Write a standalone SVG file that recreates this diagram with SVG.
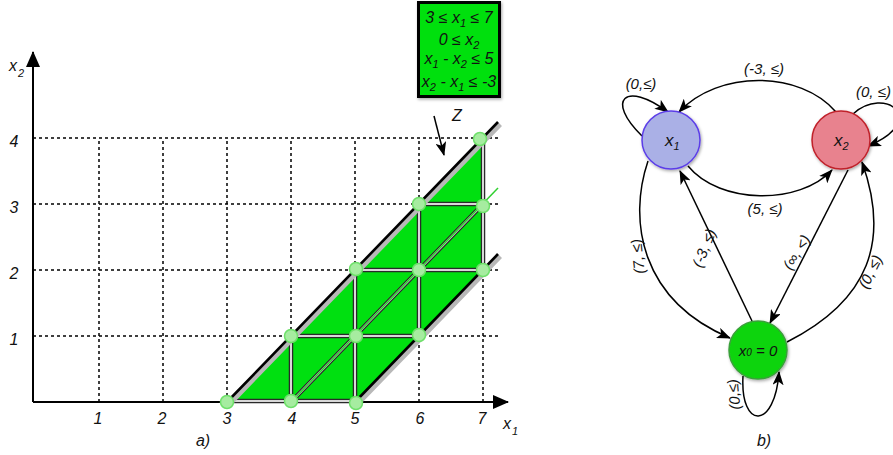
<svg xmlns="http://www.w3.org/2000/svg" width="893" height="455" viewBox="0 0 893 455">
<style>
text{font-family:"Liberation Sans",Arial,sans-serif;font-style:italic;fill:#111}
.t{font-size:16px}
.lbl{font-size:15px}
.grid{stroke:#000;stroke-width:1.5;stroke-dasharray:3,3;fill:none}
.axis{stroke:#000;stroke-width:2;fill:none}
.bnd{stroke:#000;stroke-width:2.6;fill:none}
.bndh{stroke:#b8b8b8;stroke-width:5.5;fill:none}
.inh{stroke:#2a2a2a;stroke-width:4.5;fill:none}
.inc{stroke:#d8d8d8;stroke-width:2;fill:none}
.dot{fill:#a6eca0;stroke:#6ee06a;stroke-width:1.5}
.edge{stroke:#000;stroke-width:1.5;fill:none;marker-end:url(#ah)}
</style>
<defs>
<marker id="ah" viewBox="0 0 14 11" refX="13" refY="5.5" markerWidth="14" markerHeight="11" markerUnits="userSpaceOnUse" orient="auto">
<path d="M0,0 L14,5.5 L0,11 L3.5,5.5 z" fill="#000"/>
</marker>
<marker id="axh" viewBox="0 0 16 14" refX="15" refY="7" markerWidth="16" markerHeight="14" markerUnits="userSpaceOnUse" orient="auto">
<path d="M0,0 L16,7 L0,14 z" fill="#000"/>
</marker>
<filter id="sh" x="-20%" y="-20%" width="140%" height="140%">
<feDropShadow dx="1" dy="1.5" stdDeviation="1.5" flood-color="#000" flood-opacity="0.35"/>
</filter>
</defs>

<g id="plot-a">
<g id="grid">
<path class="grid" d="M33,138 H500 M33,204 H500 M33,270 H500 M33,336 H500"/>
<path class="grid" d="M99,402 V138 M163,402 V138 M227,402 V138 M291,402 V138 M355,402 V138 M419,402 V138 M483,402 V138"/>
</g>
<g id="axes">
<line class="axis" x1="33" y1="402" x2="33" y2="52" marker-end="url(#axh)"/>
<line class="axis" x1="33" y1="402" x2="508" y2="402" marker-end="url(#axh)"/>
<text class="t" x="9" y="71">x</text><text x="18" y="77" style="font-size:11px">2</text>
<text class="t" x="503" y="429">x</text><text x="512" y="435" style="font-size:11px">1</text>
<text class="t" x="14" y="147" text-anchor="middle">4</text>
<text class="t" x="14" y="213" text-anchor="middle">3</text>
<text class="t" x="14" y="279" text-anchor="middle">2</text>
<text class="t" x="14" y="345" text-anchor="middle">1</text>
<text class="t" x="98" y="424" text-anchor="middle">1</text>
<text class="t" x="162" y="424" text-anchor="middle">2</text>
<text class="t" x="227" y="424" text-anchor="middle">3</text>
<text class="t" x="292" y="424" text-anchor="middle">4</text>
<text class="t" x="355" y="424" text-anchor="middle">5</text>
<text class="t" x="420" y="424" text-anchor="middle">6</text>
<text class="t" x="482" y="424" text-anchor="middle">7</text>
<text class="t" x="203" y="446" text-anchor="middle">a)</text>
</g>
<g id="zone-Z">
<polygon points="227,402 355,402 483,270 483,138" fill="#00e010"/>
<path class="inh" d="M291,402 V336 M355,402 V270 M419,336 V204 M483,270 V138 M291,336 H419 M355,270 H483 M419,204 H483 M227,401 H355"/>
<path class="inc" d="M291,402 V336 M355,402 V270 M419,336 V204 M483,270 V138 M291,336 H419 M355,270 H483 M419,204 H483 M227,401 H355"/>
<path class="inh" d="M291,402 L483,204"/>
<path class="inc" d="M291,402 L483,204"/>
<path d="M291,402 L498,188" stroke="#30d030" stroke-width="1.5" fill="none"/>
<path class="bndh" d="M229,404 L500,124 M357,404 L500,256"/>
<path class="bnd" d="M227,402 L498,122 M355,402 L498,254"/>
<circle class="dot" cx="227" cy="402" r="6.5"/>
<circle class="dot" cx="291" cy="401" r="6.5"/>
<circle class="dot" cx="356" cy="403" r="6.5"/>
<circle class="dot" cx="291" cy="336" r="6.5"/>
<circle class="dot" cx="356" cy="336" r="6.5"/>
<circle class="dot" cx="419" cy="335" r="6.5"/>
<circle class="dot" cx="356" cy="269" r="6.5"/>
<circle class="dot" cx="419" cy="270" r="6.5"/>
<circle class="dot" cx="483" cy="270" r="6.5"/>
<circle class="dot" cx="419" cy="204" r="6.5"/>
<circle class="dot" cx="483" cy="206" r="6.5"/>
<circle class="dot" cx="480" cy="139" r="6.5"/>
</g>
<g id="constraints-box">
<rect x="418.5" y="2.5" width="81" height="94" fill="#00e010" stroke="#000" stroke-width="3" filter="url(#sh)"/>
<text class="t" x="459" y="23" text-anchor="middle" style="font-size:16px">3 ≤ x<tspan dy="4" style="font-size:11px">1</tspan><tspan dy="-4"> ≤ 7</tspan></text>
<text class="t" x="459" y="45" text-anchor="middle" style="font-size:16px">0 ≤ x<tspan dy="4" style="font-size:11px">2</tspan></text>
<text class="t" x="459" y="64" text-anchor="middle" style="font-size:16px">x<tspan dy="4" style="font-size:11px">1</tspan><tspan dy="-4"> - x</tspan><tspan dy="4" style="font-size:11px">2</tspan><tspan dy="-4"> ≤ 5</tspan></text>
<text class="t" x="459" y="87" text-anchor="middle" style="font-size:16px">x<tspan dy="4" style="font-size:11px">2</tspan><tspan dy="-4"> - x</tspan><tspan dy="4" style="font-size:11px">1</tspan><tspan dy="-4"> ≤ -3</tspan></text>
</g>
<g id="Z-label">
<text class="t" x="457" y="121" text-anchor="middle">Z</text>
<line x1="434" y1="116" x2="444" y2="155" stroke="#000" stroke-width="1.5" marker-end="url(#ah)"/>
</g>
</g>

<g id="graph-b">
<g id="connectors">
<path class="edge" d="M836,112 C800,70 718,70 679,112"/>
<path class="edge" d="M688,166 C720,205 800,205 832,170"/>
<path class="edge" d="M642,136 C605,100 625,80 668,112"/>
<path class="edge" d="M853,114 C885,85 930,120 868,146"/>
<path class="edge" d="M648,161 C628,220 640,300 730,338"/>
<path class="edge" d="M752,321 L680,171"/>
<path class="edge" d="M848,170 L770,323"/>
<path class="edge" d="M787,342 C870,300 890,240 862,162"/>
<path class="edge" d="M743,376 C740,430 775,430 779,372"/>
<text class="lbl" x="764" y="74" text-anchor="middle">(-3, ≤)</text>
<text class="lbl" x="765" y="214" text-anchor="middle">(5, ≤)</text>
<text class="lbl" x="641" y="89" text-anchor="middle">(0,≤)</text>
<text class="lbl" x="856" y="97">(0, ≤)</text>
<text class="lbl" transform="translate(643,256) rotate(-96)" text-anchor="middle">(7, ≤)</text>
<text class="lbl" transform="translate(709,250) rotate(-68)" text-anchor="middle">(-3, ≤)</text>
<text class="lbl" transform="translate(801,255) rotate(-58)" text-anchor="middle">(∞, &lt;)</text>
<text class="lbl" transform="translate(875,274) rotate(-64)" text-anchor="middle">(0, ≤)</text>
<text class="lbl" transform="translate(739,394) rotate(-95)" text-anchor="middle">(0,≤)</text>
</g>
<g id="node-x1">
<circle cx="671" cy="140" r="29" fill="#aab0e6" stroke="#5b3ee8" stroke-width="1.5" filter="url(#sh)"/>
<text class="t" x="665" y="146" style="font-size:17px">x<tspan dy="4" style="font-size:11px">1</tspan></text>
</g>
<g id="node-x2">
<circle cx="841" cy="140" r="29" fill="#e8828e" stroke="#c0202a" stroke-width="1.5" filter="url(#sh)"/>
<text class="t" x="834" y="146" style="font-size:17px">x<tspan dy="4" style="font-size:11px">2</tspan></text>
</g>
<g id="node-x0">
<circle cx="758" cy="350" r="29" fill="#11d411" stroke="#3aa03a" stroke-width="1.5" filter="url(#sh)"/>
<text class="lbl" x="758" y="356" text-anchor="middle">x<tspan style="font-size:10px">0</tspan> = 0</text>
</g>
<text class="t" x="764" y="446" text-anchor="middle">b)</text>
</g>
</svg>
